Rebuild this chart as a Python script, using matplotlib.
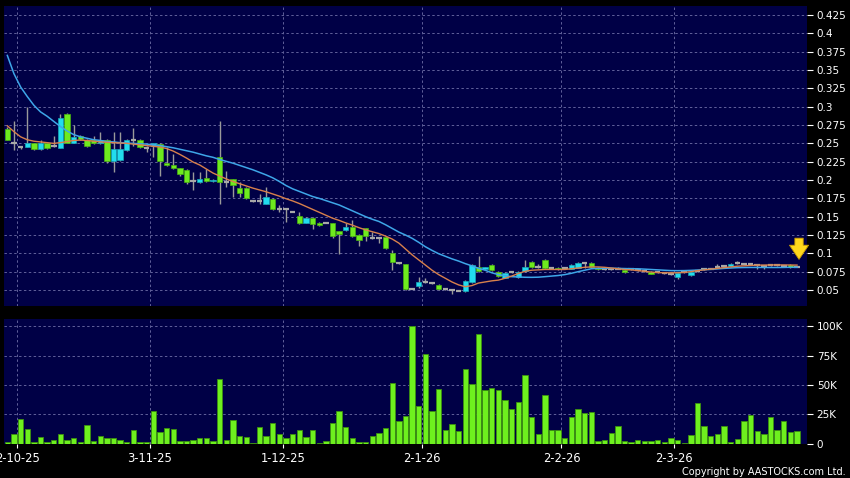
import matplotlib
matplotlib.use("Agg")
import matplotlib.pyplot as plt
import numpy as np

# daily candles, one entry per trading day (30-9-25 .. 26-3-26)
opens = [0.270, 0.250, 0.245, 0.245, 0.250, 0.242, 0.250, 0.246, 0.244, 0.290,
         0.250, 0.260, 0.255, 0.255, 0.250, 0.255, 0.226, 0.227, 0.241, 0.255,
         0.255, 0.244, 0.247, 0.249, 0.223, 0.220, 0.216, 0.214, 0.199, 0.197,
         0.203, 0.199, 0.231, 0.198, 0.201, 0.189, 0.189, 0.171, 0.172, 0.168,
         0.174, 0.160, 0.160, 0.157, 0.151, 0.142, 0.148, 0.142, 0.142, 0.141,
         0.130, 0.132, 0.136, 0.125, 0.134, 0.121, 0.121, 0.122, 0.100, 0.087,
         0.085, 0.052, 0.055, 0.061, 0.059, 0.057, 0.051, 0.050, 0.049, 0.049,
         0.061, 0.082, 0.078, 0.084, 0.075, 0.067, 0.074, 0.068, 0.076, 0.088,
         0.082, 0.091, 0.080, 0.080, 0.080, 0.079, 0.080, 0.087, 0.087, 0.080,
         0.078, 0.078, 0.079, 0.077, 0.078, 0.077, 0.076, 0.075, 0.074, 0.073,
         0.072, 0.068, 0.074, 0.071, 0.076, 0.078, 0.079, 0.081, 0.083, 0.083,
         0.087, 0.086, 0.085, 0.084, 0.083, 0.084, 0.084, 0.083, 0.084, 0.082]
highs = [0.272, 0.280, 0.247, 0.300, 0.251, 0.255, 0.251, 0.260, 0.290, 0.291,
         0.275, 0.261, 0.256, 0.260, 0.265, 0.256, 0.265, 0.265, 0.256, 0.271,
         0.256, 0.246, 0.251, 0.251, 0.245, 0.236, 0.217, 0.215, 0.211, 0.211,
         0.215, 0.201, 0.280, 0.212, 0.202, 0.197, 0.190, 0.172, 0.181, 0.191,
         0.175, 0.166, 0.161, 0.158, 0.157, 0.149, 0.149, 0.143, 0.143, 0.142,
         0.131, 0.141, 0.145, 0.126, 0.135, 0.129, 0.122, 0.123, 0.105, 0.088,
         0.086, 0.053, 0.068, 0.066, 0.060, 0.058, 0.052, 0.051, 0.050, 0.064,
         0.085, 0.096, 0.082, 0.085, 0.076, 0.074, 0.075, 0.076, 0.091, 0.089,
         0.085, 0.092, 0.081, 0.081, 0.081, 0.085, 0.088, 0.088, 0.088, 0.081,
         0.079, 0.079, 0.081, 0.078, 0.079, 0.078, 0.077, 0.076, 0.075, 0.074,
         0.073, 0.074, 0.075, 0.076, 0.077, 0.079, 0.080, 0.085, 0.084, 0.087,
         0.089, 0.087, 0.086, 0.085, 0.084, 0.085, 0.085, 0.084, 0.085, 0.083]
lows = [0.254, 0.241, 0.243, 0.245, 0.241, 0.241, 0.243, 0.245, 0.244, 0.250,
        0.250, 0.255, 0.245, 0.249, 0.249, 0.223, 0.211, 0.226, 0.240, 0.247,
        0.244, 0.238, 0.232, 0.206, 0.219, 0.215, 0.206, 0.195, 0.186, 0.196,
        0.198, 0.198, 0.167, 0.190, 0.177, 0.177, 0.174, 0.170, 0.168, 0.167,
        0.159, 0.157, 0.143, 0.156, 0.140, 0.141, 0.133, 0.138, 0.141, 0.121,
        0.099, 0.131, 0.122, 0.110, 0.117, 0.120, 0.114, 0.106, 0.077, 0.085,
        0.050, 0.051, 0.053, 0.059, 0.058, 0.050, 0.050, 0.045, 0.048, 0.047,
        0.060, 0.075, 0.077, 0.076, 0.068, 0.066, 0.073, 0.067, 0.075, 0.080,
        0.080, 0.079, 0.079, 0.077, 0.079, 0.078, 0.080, 0.080, 0.080, 0.077,
        0.077, 0.077, 0.078, 0.073, 0.077, 0.076, 0.075, 0.072, 0.073, 0.072,
        0.071, 0.065, 0.073, 0.069, 0.075, 0.077, 0.078, 0.080, 0.082, 0.082,
        0.086, 0.085, 0.084, 0.079, 0.078, 0.083, 0.083, 0.082, 0.080, 0.081]
closes = [0.255, 0.250, 0.245, 0.250, 0.242, 0.250, 0.244, 0.246, 0.285, 0.251,
          0.259, 0.256, 0.246, 0.250, 0.254, 0.226, 0.242, 0.242, 0.255, 0.255,
          0.245, 0.244, 0.250, 0.226, 0.220, 0.216, 0.208, 0.197, 0.199, 0.201,
          0.199, 0.200, 0.197, 0.198, 0.193, 0.182, 0.175, 0.171, 0.172, 0.177,
          0.160, 0.160, 0.160, 0.157, 0.141, 0.148, 0.140, 0.139, 0.142, 0.123,
          0.127, 0.136, 0.123, 0.118, 0.123, 0.121, 0.121, 0.107, 0.088, 0.087,
          0.051, 0.052, 0.061, 0.061, 0.059, 0.051, 0.051, 0.050, 0.049, 0.062,
          0.084, 0.076, 0.081, 0.077, 0.069, 0.073, 0.074, 0.075, 0.082, 0.081,
          0.082, 0.080, 0.080, 0.078, 0.080, 0.084, 0.087, 0.087, 0.081, 0.078,
          0.078, 0.078, 0.079, 0.074, 0.078, 0.077, 0.076, 0.072, 0.074, 0.073,
          0.072, 0.073, 0.074, 0.075, 0.076, 0.078, 0.079, 0.081, 0.083, 0.086,
          0.087, 0.086, 0.085, 0.084, 0.083, 0.084, 0.084, 0.083, 0.081, 0.082]

# moving averages as shown on the chart
ma_short = [0.274, 0.266, 0.259, 0.255, 0.253, 0.252, 0.251, 0.250, 0.251, 0.2525,
            0.254, 0.2545, 0.254, 0.253, 0.252, 0.2515, 0.251, 0.2505, 0.250, 0.249,
            0.248, 0.247, 0.246, 0.245, 0.243, 0.2395, 0.235, 0.230, 0.2245, 0.2205,
            0.215, 0.2095, 0.2055, 0.2015, 0.198, 0.195, 0.192, 0.189, 0.1865, 0.184,
            0.181, 0.178, 0.1745, 0.1715, 0.168, 0.164, 0.160, 0.156, 0.152, 0.148,
            0.145, 0.1415, 0.1385, 0.135, 0.132, 0.1295, 0.127, 0.1235, 0.1195, 0.114,
            0.106, 0.098, 0.091, 0.084, 0.077, 0.071, 0.066, 0.061, 0.057, 0.0545,
            0.056, 0.0595, 0.061, 0.0625, 0.0635, 0.066, 0.069, 0.0725, 0.0755, 0.077,
            0.0775, 0.078, 0.078, 0.078, 0.078, 0.079, 0.080, 0.081, 0.0815, 0.0815,
            0.081, 0.080, 0.079, 0.078, 0.0775, 0.0765, 0.0755, 0.0745, 0.0738, 0.0735,
            0.0735, 0.0735, 0.074, 0.075, 0.0765, 0.0775, 0.0785, 0.0795, 0.0805, 0.0815,
            0.0825, 0.083, 0.0835, 0.084, 0.084, 0.0842, 0.0842, 0.0842, 0.0841, 0.084]
ma_long = [0.370, 0.345, 0.327, 0.314, 0.302, 0.293, 0.287, 0.280, 0.273, 0.267,
           0.262, 0.259, 0.257, 0.255, 0.254, 0.2525, 0.252, 0.251, 0.2505, 0.250,
           0.2495, 0.249, 0.248, 0.247, 0.2455, 0.244, 0.242, 0.240, 0.238, 0.2355,
           0.233, 0.231, 0.228, 0.2255, 0.223, 0.220, 0.217, 0.214, 0.2105, 0.207,
           0.203, 0.198, 0.1925, 0.188, 0.1845, 0.181, 0.1775, 0.175, 0.172, 0.169,
           0.166, 0.162, 0.158, 0.154, 0.150, 0.1465, 0.1435, 0.139, 0.134, 0.129,
           0.125, 0.1205, 0.115, 0.109, 0.104, 0.0995, 0.096, 0.0925, 0.0895, 0.086,
           0.083, 0.0796, 0.077, 0.0735, 0.071, 0.0695, 0.0682, 0.0678, 0.0674, 0.0673,
           0.0675, 0.0682, 0.069, 0.0698, 0.071, 0.0728, 0.075, 0.077, 0.079, 0.0796,
           0.0797, 0.0797, 0.0795, 0.0793, 0.079, 0.079, 0.0785, 0.078, 0.0775, 0.077,
           0.0765, 0.0764, 0.0765, 0.0768, 0.0772, 0.0778, 0.0782, 0.0788, 0.0795, 0.080,
           0.0805, 0.0807, 0.0808, 0.0808, 0.0808, 0.0807, 0.0807, 0.0808, 0.081, 0.081]

# volume in thousands of shares
volumes_k = [1.4, 8, 20.5, 12.5, 1.7, 5.4, 0.9, 2.6, 8.2, 2.6,
             4.3, 0.9, 15.9, 2.3, 6.8, 4.5, 4.8, 2.8, 0.9, 11.6,
             0.9, 0.9, 27.8, 9.7, 13, 12.2, 2.3, 2, 3.4, 4.5,
             5.1, 2.3, 55.4, 2.8, 20.2, 6.3, 5.7, 0.3, 14.2, 6,
             17.3, 8, 4.5, 7.7, 11.6, 5.4, 11.1, 0.6, 2.3, 17.3,
             27.8, 14.2, 4.8, 0.9, 1.4, 6.5, 9.1, 13.4, 51.7, 19.6,
             23.3, 100.6, 32.4, 76.7, 27.6, 46.3, 11.1, 17, 10.5, 63.4,
             50.6, 93.2, 45.2, 47.4, 45.7, 36.9, 29.3, 35.8, 58.2, 22.2,
             8.5, 41.2, 11.4, 11.4, 4.8, 22.4, 29.5, 25.9, 27, 2.3,
             2.6, 8.8, 15.1, 2.3, 1.7, 3.1, 2.3, 2, 2.6, 1.7,
             4.5, 3.1, 0.6, 7.1, 34.9, 14.5, 6.5, 8.5, 14.5, 1.4,
             4, 19.6, 23.9, 10.8, 7.7, 22.2, 11.9, 18.8, 9.4, 10.5]
volumes = [v * 1000 for v in volumes_k]

date_labels = ["2-10-25", "3-11-25", "1-12-25", "2-1-26", "2-2-26", "2-3-26"]
date_idx = [2, 22, 42, 63, 84, 101]

price_ticks = [0.05, 0.075, 0.1, 0.125, 0.15, 0.175, 0.2, 0.225, 0.25, 0.275,
               0.3, 0.325, 0.35, 0.375, 0.4, 0.425]
vol_ticks = [0, 25000, 50000, 75000, 100000]
vol_tick_labels = ["0", "25K", "50K", "75K", "100K"]

BG = "#000046"
GRID = "#60609a"
UP = "#22dcee"
DOWN = "#6eea1e"
FLAT = "#a8a8a8"
WICK = "#9a9a9a"

fig = plt.figure(figsize=(8.5, 4.78), dpi=100, facecolor="black")
ax = fig.add_axes([4 / 850, 1 - 306 / 478, 803 / 850, 300 / 478])
axv = fig.add_axes([4 / 850, 1 - 443.5 / 478, 803 / 850, 125 / 478])

x = np.arange(len(closes))
o = np.array(opens)
c = np.array(closes)
h = np.array(highs)
l = np.array(lows)

for a in (ax, axv):
    a.set_facecolor(BG)
    for s in a.spines.values():
        s.set_visible(False)
    a.set_xlim(-0.5, 120.5)
    for d in date_idx:
        a.axvline(d - 0.5, color=GRID, lw=0.7, ls=(0, (2.5, 2.5)), zorder=0)
    a.yaxis.tick_right()
    a.tick_params(axis="y", colors="white", labelsize=7.5, length=4,
                  width=0.8, pad=3, direction="out")

# price panel
ax.set_ylim(0.0282, 0.4374)
ax.set_yticks(price_ticks)
ax.set_yticklabels(["{:g}".format(t) for t in price_ticks])
ax.set_xticks([])
for t in price_ticks:
    ax.axhline(t, color=GRID, lw=0.7, ls=(0, (2.5, 2.5)), zorder=0)

ax.vlines(x, l, h, color=WICK, lw=1, zorder=2)
up = c > o
dn = c < o
fl = c == o
ax.bar(x[up], (c - o)[up], bottom=o[up], width=0.8, color=UP,
       edgecolor="#18a8b8", lw=0.5, zorder=3)
ax.bar(x[dn], (o - c)[dn], bottom=c[dn], width=0.8, color=DOWN,
       edgecolor="#48b010", lw=0.5, zorder=3)
ax.hlines(c[fl], x[fl] - 0.42, x[fl] + 0.42, color=FLAT, lw=1.6, zorder=3)

ax.plot(x, ma_long, color="#3ea6e8", lw=1.1, zorder=4)
ax.plot(x, ma_short, color="#d8804c", lw=1.0, zorder=4)

# latest-price marker
ax.annotate("", xy=(x[-1] + 0.3, 0.088), xytext=(x[-1] + 0.3, 0.1245),
            arrowprops=dict(arrowstyle="simple,head_width=1.15,head_length=0.85,tail_width=0.5",
                            fc="#ffd81c", ec="#c89a00", lw=0.6, mutation_scale=12),
            zorder=5)

# volume panel
axv.set_ylim(0, 106600)
axv.set_yticks(vol_ticks)
axv.set_yticklabels(vol_tick_labels)
for t in vol_ticks[1:]:
    axv.axhline(t, color=GRID, lw=0.7, ls=(0, (2.5, 2.5)), zorder=0)
axv.bar(x, volumes, width=0.82, color="#6ef01e", edgecolor="#3c9010",
        lw=0.6, zorder=3)
axv.set_xticks([d - 0.5 for d in date_idx])
axv.set_xticklabels(date_labels)
axv.tick_params(axis="x", colors="white", labelsize=8.3, length=3,
                width=0.8, pad=3, direction="out")

fig.text(0.995, 0.0135, "Copyright by AASTOCKS.com Ltd.", color="white",
         fontsize=7, ha="right", va="center")

fig.savefig("out.png", dpi=100, facecolor="black")
